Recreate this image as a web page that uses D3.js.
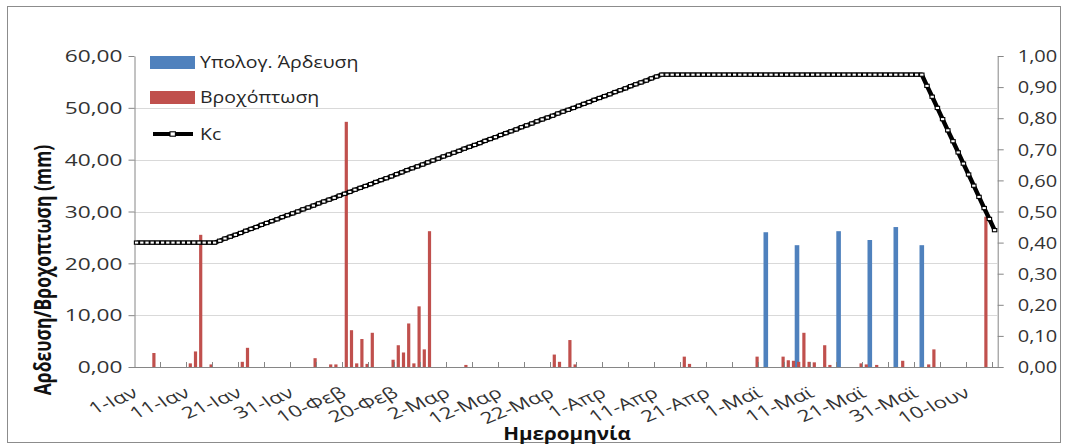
<!DOCTYPE html>
<html>
<head>
<meta charset="utf-8">
<script src="https://cdn.jsdelivr.net/npm/d3@7"></script>
<style>
  body { margin: 0; background: #fff; }
  svg { display: block; }
  text { font-family: "Open Sans", "Noto Sans", sans-serif; }
</style>
</head>
<body>
<svg id="chart" width="1067" height="445"></svg>
<script>
// ---- Data -------------------------------------------------------------
// One category per day of the season, 1 Jan to 15 Jun (166 days)
const days = d3.timeDay.range(new Date(2015, 0, 1), new Date(2015, 5, 16));

// Category labels, shown every 10th day
const dayLabels = ["1-Ιαν", "11-Ιαν", "21-Ιαν", "31-Ιαν", "10-Φεβ", "20-Φεβ",
  "2-Μαρ", "12-Μαρ", "22-Μαρ", "1-Απρ", "11-Απρ", "21-Απρ", "1-Μαϊ",
  "11-Μαϊ", "21-Μαϊ", "31-Μαϊ", "10-Ιουν"];

// Computed irrigation (mm): day index within the season and depth
const irrigationDays   = [121, 127, 135, 141, 146, 151];
const irrigationValues = [26.0, 23.5, 26.2, 24.5, 27.0, 23.5];

// Rainfall (mm): day index within the season and depth
const rainDays = [3, 10, 11, 12, 14, 20, 21, 34, 37, 38, 40, 41, 42, 43, 44, 45,
  49, 50, 51, 52, 53, 54, 55, 56, 63, 80, 81, 83, 84, 105, 106, 119, 124, 125,
  126, 127, 128, 129, 130, 132, 133, 139, 140, 142, 147, 152, 153, 163];
const rainValues = [2.7, 0.7, 3.0, 25.5, 0.5, 1.0, 3.7, 1.7, 0.5, 0.5, 47.3, 7.1, 0.7, 5.4, 0.6, 6.6,
  1.4, 4.2, 2.8, 8.4, 0.7, 11.7, 3.4, 26.2, 0.4, 2.4, 1.0, 5.2, 0.5, 2.0, 0.6, 2.0, 2.0, 1.3,
  1.2, 1.0, 6.6, 1.0, 0.9, 4.2, 0.4, 0.7, 0.5, 0.4, 1.2, 0.5, 3.4, 29.0];

// Crop coefficient Kc, one value per day
const kcValues = [
  0.400, 0.400, 0.400, 0.400, 0.400, 0.400, 0.400, 0.400, 0.400, 0.400,
  0.400, 0.400, 0.400, 0.400, 0.400, 0.400,
  0.406, 0.413, 0.419, 0.425, 0.431, 0.438, 0.444, 0.450, 0.457, 0.463,
  0.469, 0.475, 0.482, 0.488, 0.494, 0.500, 0.507, 0.513, 0.519, 0.526,
  0.532, 0.538, 0.544, 0.551, 0.557, 0.563, 0.570, 0.576, 0.582, 0.588,
  0.595, 0.601, 0.607, 0.613, 0.620, 0.626, 0.633, 0.639, 0.645, 0.651,
  0.658, 0.664, 0.670, 0.677, 0.683, 0.689, 0.695, 0.702, 0.708, 0.714,
  0.720, 0.727, 0.733, 0.739, 0.746, 0.752, 0.758, 0.764, 0.771, 0.777,
  0.783, 0.790, 0.796, 0.802, 0.808, 0.815, 0.821, 0.827, 0.833, 0.840,
  0.846, 0.852, 0.859, 0.865, 0.871, 0.877, 0.884, 0.890, 0.896, 0.903,
  0.909, 0.915, 0.921, 0.928, 0.934, 0.940,
  0.940, 0.940, 0.940, 0.940, 0.940, 0.940, 0.940, 0.940, 0.940, 0.940,
  0.940, 0.940, 0.940, 0.940, 0.940, 0.940, 0.940, 0.940, 0.940, 0.940,
  0.940, 0.940, 0.940, 0.940, 0.940, 0.940, 0.940, 0.940, 0.940, 0.940,
  0.940, 0.940, 0.940, 0.940, 0.940, 0.940, 0.940, 0.940, 0.940, 0.940,
  0.940, 0.940, 0.940, 0.940, 0.940, 0.940, 0.940, 0.940, 0.940, 0.940,
  0.904, 0.869, 0.833, 0.797, 0.761, 0.726, 0.690, 0.654, 0.619, 0.583,
  0.547, 0.511, 0.476, 0.440
];

// Axis ticks
const leftTicks  = [0, 10, 20, 30, 40, 50, 60];
const rightTicks = [0, 0.1, 0.2, 0.3, 0.4, 0.5, 0.6, 0.7, 0.8, 0.9, 1.0];
const gridTicks  = [10, 20, 30, 40, 50];

// ---- Layout -----------------------------------------------------------
const plot = { left: 134, right: 997.2, top: 56, bottom: 367 };
const axisColor = "#868686";
const blue = "#4f81bd", red = "#c0504d";
const comma2 = v => d3.format(".2f")(v).replace(".", ",");

const svg = d3.select("#chart");

// outer frame
svg.append("rect")
  .attr("x", 7.5).attr("y", 6.5).attr("width", 1053).attr("height", 436)
  .attr("fill", "#fff").attr("stroke", "#8c8c8c").attr("stroke-width", 1);

const x = d3.scaleBand()
  .domain(d3.range(days.length))
  .range([plot.left, plot.right])
  .padding(0);
const bw = x.bandwidth();
const yL = d3.scaleLinear().domain([0, 60]).range([plot.bottom, plot.top]);
const yR = d3.scaleLinear().domain([0, 1]).range([plot.bottom, plot.top]);

// gridlines
svg.append("g").selectAll("line").data(gridTicks).join("line")
  .attr("x1", plot.left).attr("x2", plot.right)
  .attr("y1", d => Math.round(yL(d)) + 0.5).attr("y2", d => Math.round(yL(d)) + 0.5)
  .attr("stroke", "#d9d9d9").attr("stroke-width", 1);

// irrigation bars
svg.append("g").selectAll("rect").data(irrigationDays).join("rect")
  .attr("x", (d) => x(d) + bw / 2 - 2.3)
  .attr("width", 4.6)
  .attr("y", (d, i) => yL(irrigationValues[i]))
  .attr("height", (d, i) => yL(0) - yL(irrigationValues[i]))
  .attr("fill", blue);

// rainfall bars
svg.append("g").selectAll("rect").data(rainDays).join("rect")
  .attr("x", (d) => x(d) + bw / 2 + 0.1)
  .attr("width", 3.2)
  .attr("y", (d, i) => yL(rainValues[i]))
  .attr("height", (d, i) => yL(0) - yL(rainValues[i]))
  .attr("fill", red);

// left axis
const gL = svg.append("g").attr("transform", `translate(${plot.left + 0.5},0)`)
  .call(d3.axisLeft(yL).tickValues(leftTicks).tickFormat(comma2).tickSize(6).tickSizeOuter(0));
gL.selectAll("path, line").attr("stroke", axisColor);
gL.selectAll("text")
  .attr("x", 0).attr("dy", "0.36em")
  .attr("transform", "translate(-12,0) scale(1.42,1)")
  .attr("fill", "#333").style("font-size", "16px");

// right axis
const gR = svg.append("g").attr("transform", `translate(${plot.right + 0.5},0)`)
  .call(d3.axisRight(yR).tickValues(rightTicks).tickFormat(comma2).tickSize(6).tickSizeOuter(0));
gR.selectAll("path, line").attr("stroke", axisColor);
gR.selectAll("text")
  .attr("x", 0).attr("dy", "0.36em")
  .attr("transform", "translate(20,0) scale(1.25,1)")
  .attr("fill", "#333").style("font-size", "16px");

// category axis: baseline, inside tick marks every 5 days, labels every 10 days
const gX = svg.append("g");
gX.append("line")
  .attr("x1", plot.left).attr("x2", plot.right + 1)
  .attr("y1", plot.bottom + 0.5).attr("y2", plot.bottom + 0.5)
  .attr("stroke", axisColor);
gX.selectAll("line.tick").data(d3.range(5, days.length, 5)).join("line")
  .attr("class", "tick")
  .attr("x1", d => Math.round(x(d)) + 0.5).attr("x2", d => Math.round(x(d)) + 0.5)
  .attr("y1", plot.bottom).attr("y2", plot.bottom - 5)
  .attr("stroke", axisColor);
gX.selectAll("text").data(d3.range(0, days.length, 10)).join("text")
  .attr("text-anchor", "end")
  .attr("transform", d => `translate(${x(d) + bw / 2 + 3},396) scale(1.4,1) rotate(-30)`)
  .attr("fill", "#333").style("font-size", "16px")
  .text((d, i) => dayLabels[i]);

// Kc line with square markers
const kcLine = d3.line().x((d, i) => x(i) + bw / 2).y(d => yR(d));
svg.append("path").datum(kcValues)
  .attr("d", kcLine).attr("fill", "none")
  .attr("stroke", "#000").attr("stroke-width", 4.4).attr("stroke-linejoin", "round");
svg.append("g").selectAll("rect").data(kcValues).join("rect")
  .attr("x", (d, i) => x(i) + bw / 2 - 2.2)
  .attr("y", d => yR(d) - 1.6)
  .attr("width", 4.4).attr("height", 3.2)
  .attr("fill", "#fff").attr("stroke", "#000").attr("stroke-width", 1.1);

// axis titles
svg.append("text")
  .attr("text-anchor", "middle")
  .attr("transform", "translate(567,440) scale(1.18,1)")
  .style("font-size", "17.5px").style("font-weight", "bold").attr("fill", "#111")
  .text("Ημερομηνία");
svg.append("text")
  .attr("text-anchor", "middle")
  .attr("transform", "translate(51,270) scale(1.3,1) rotate(-90)")
  .style("font-size", "17.5px").style("font-weight", "bold").attr("fill", "#111")
  .text("Αρδευση/Βροχοπτωση (mm)");

// legend
const legend = svg.append("g");
const legendItems = [
  { name: "Υπολογ. Άρδευση", kind: "bar", color: blue, y: 62.5 },
  { name: "Βροχόπτωση", kind: "bar", color: red, y: 97.5 },
  { name: "Kc", kind: "line", color: "#000", y: 134 }
];
legendItems.forEach(it => {
  if (it.kind === "bar") {
    legend.append("rect").attr("x", 150).attr("y", it.y - 6.5)
      .attr("width", 45).attr("height", 13).attr("fill", it.color);
  } else {
    legend.append("line").attr("x1", 153).attr("x2", 193)
      .attr("y1", it.y).attr("y2", it.y)
      .attr("stroke", "#000").attr("stroke-width", 4);
    legend.append("rect").attr("x", 170).attr("y", it.y - 2.2)
      .attr("width", 5.4).attr("height", 4.4)
      .attr("fill", "#fff").attr("stroke", "#000").attr("stroke-width", 1.1);
  }
  legend.append("text")
    .attr("transform", `translate(200,${it.y}) scale(1.22,1)`)
    .attr("dy", "0.36em")
    .attr("fill", "#262626").style("font-size", "16px")
    .text(it.name);
});
</script>
</body>
</html>
